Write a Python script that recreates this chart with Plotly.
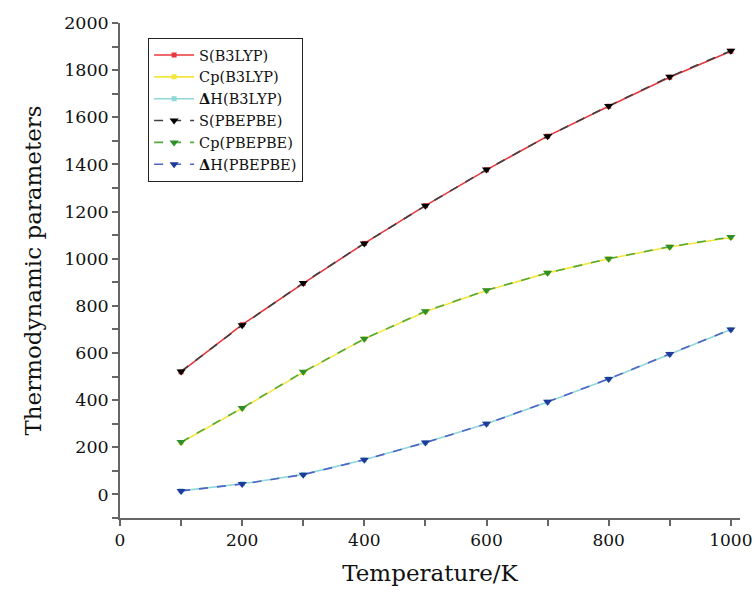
import plotly.graph_objects as go

temperature = [100, 200, 300, 400, 500, 600, 700, 800, 900, 1000]
s_b3lyp = [520, 720, 895, 1065, 1225, 1377, 1520, 1647, 1770, 1880]
cp_b3lyp = [220, 365, 518, 660, 775, 865, 940, 1000, 1050, 1090]
dh_b3lyp = [15, 45, 85, 147, 220, 300, 392, 490, 595, 700]
s_pbepbe = [522, 718, 897, 1065, 1225, 1378, 1520, 1648, 1772, 1882]
cp_pbepbe = [222, 367, 520, 660, 777, 866, 940, 1000, 1051, 1092]
dh_pbepbe = [15, 44, 84, 147, 220, 300, 393, 490, 596, 700]

series = [
    ("S(B3LYP)", s_b3lyp, "#e8383d", "#e8383d", "solid", "square", 5),
    ("Cp(B3LYP)", cp_b3lyp, "#f3e63c", "#f3e63c", "solid", "square", 5),
    ("<b>Δ</b>H(B3LYP)", dh_b3lyp, "#8ed8d6", "#8ed8d6", "solid", "square", 5),
    ("S(PBEPBE)", s_pbepbe, "#404040", "#000000", "dash", "triangle-down", 8),
    ("Cp(PBEPBE)", cp_pbepbe, "#55a83a", "#2f8f2a", "dash", "triangle-down", 8),
    ("<b>Δ</b>H(PBEPBE)", dh_pbepbe, "#5062c8", "#1f3a9a", "dash", "triangle-down", 8),
]

fig = go.Figure()
for name, ys, lc, mc, dash, sym, size in series:
    fig.add_trace(go.Scatter(
        x=temperature, y=ys, name=name, mode="lines+markers",
        line=dict(color=lc, width=1.6, dash=dash),
        marker=dict(color=mc, symbol=sym, size=size),
    ))

font_family = "DejaVu Serif, Liberation Serif, serif"
fig.update_layout(
    width=755, height=593,
    margin=dict(l=120, r=15, t=23, b=75),
    paper_bgcolor="white", plot_bgcolor="white",
    font=dict(family=font_family, color="#111", size=17),
    showlegend=True,
    legend=dict(
        x=0.045, y=0.97, xanchor="left", yanchor="top",
        bordercolor="#222", borderwidth=1.2, bgcolor="white",
        font=dict(family=font_family, size=14.5, color="#111"),
        tracegroupgap=0, itemwidth=40,
    ),
    xaxis=dict(
        range=[0, 1015], dtick=200, tick0=0, automargin=False,
        showgrid=False, zeroline=False,
        showline=True, linecolor="#666", linewidth=1.5,
        ticks="outside", ticklen=6, tickcolor="#666", tickwidth=1.5,
        minor=dict(dtick=100, tick0=0, ticks="outside", ticklen=6, tickcolor="#666", tickwidth=1.5, showgrid=False),
        title=dict(text="Temperature/K", font=dict(size=23, family=font_family), standoff=16),
        tickfont=dict(size=17, family=font_family),
    ),
    yaxis=dict(
        range=[-100, 2000], dtick=200, tick0=0, automargin=False,
        showgrid=False, zeroline=False,
        showline=True, linecolor="#666", linewidth=1.5,
        ticks="outside", ticklen=6, tickcolor="#666", tickwidth=1.5,
        minor=dict(dtick=100, tick0=0, ticks="outside", ticklen=6, tickcolor="#666", tickwidth=1.5, showgrid=False),
        title=dict(text="Thermodynamic parameters", font=dict(size=23, family=font_family), standoff=16),
        tickfont=dict(size=17.5, family=font_family),
    ),
)

fig.write_html("out.html", config={"displayModeBar": False},
               post_script="document.body.style.margin='0px';")
